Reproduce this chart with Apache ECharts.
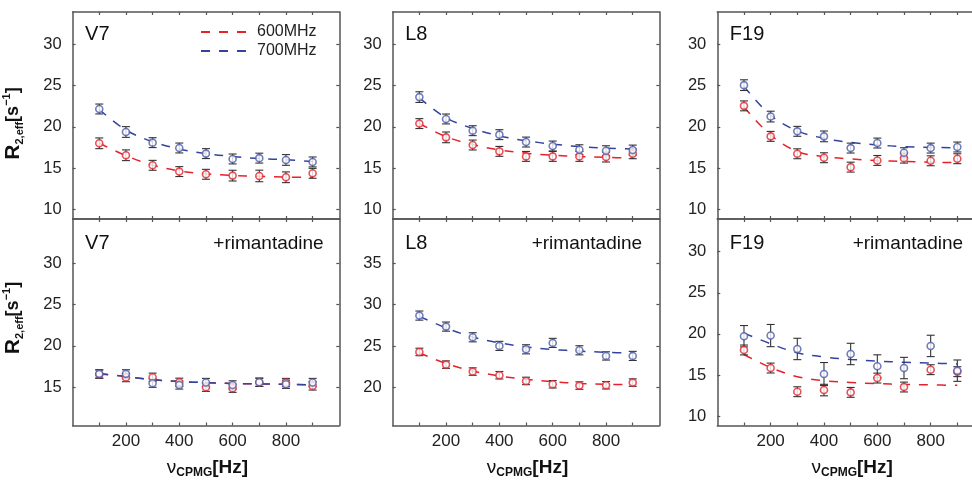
<!DOCTYPE html>
<html><head><meta charset="utf-8">
<script src="https://cdn.jsdelivr.net/npm/echarts@6/dist/echarts.min.js"></script>
<style>html,body{margin:0;padding:0;background:#fff}#c{width:972px;height:482px}</style>
</head><body><div id="c"></div>
<script>
// ---------- DATA ----------
const freq = [100, 200, 300, 400, 500, 600, 700, 800, 900];
const xTickValues = [100, 200, 300, 400, 500, 600, 700, 800, 900];
const xLabelValues = [200, 400, 600, 800];
const residueNames = ['V7', 'L8', 'F19', 'V7', 'L8', 'F19'];
const conditionNames = ['', '', '', '+rimantadine', '+rimantadine', '+rimantadine'];
const seriesNames = ['600MHz', '700MHz'];

// V7 (apo)
const v7_600 = [18.0, 16.55, 15.33, 14.57, 14.24, 14.08, 14.04, 13.88, 14.36];
const v7_600_err = [0.65, 0.65, 0.6, 0.6, 0.6, 0.65, 0.7, 0.65, 0.6];
const v7_600_fit = [18.0, 16.5, 15.35, 14.65, 14.3, 14.1, 14.0, 13.9, 13.85];
const v7_700 = [22.16, 19.37, 18.08, 17.43, 16.75, 16.1, 16.2, 15.98, 15.74];
const v7_700_err = [0.6, 0.65, 0.6, 0.6, 0.6, 0.6, 0.6, 0.65, 0.6];
const v7_700_fit = [22.1, 19.6, 18.2, 17.3, 16.75, 16.4, 16.15, 16.0, 15.8];
// L8 (apo)
const l8_600 = [20.39, 18.72, 17.79, 17.02, 16.41, 16.41, 16.41, 16.33, 16.73];
const l8_600_err = [0.6, 0.65, 0.6, 0.6, 0.6, 0.6, 0.6, 0.6, 0.6];
const l8_600_fit = [20.4, 18.8, 17.85, 17.2, 16.8, 16.55, 16.4, 16.3, 16.2];
const l8_700 = [23.6, 20.95, 19.53, 19.05, 18.15, 17.67, 17.22, 17.1, 17.18];
const l8_700_err = [0.65, 0.6, 0.6, 0.6, 0.6, 0.6, 0.6, 0.6, 0.6];
const l8_700_fit = [23.5, 21.1, 19.8, 18.9, 18.3, 17.9, 17.6, 17.4, 17.3];
// F19 (apo)
const f19_600 = [22.54, 18.84, 16.73, 16.25, 15.11, 15.92, 16.2, 15.88, 16.13];
const f19_600_err = [0.6, 0.6, 0.6, 0.6, 0.6, 0.6, 0.6, 0.6, 0.6];
const f19_600_fit = [22.4, 19.0, 17.0, 16.4, 16.1, 15.9, 15.8, 15.7, 15.65];
const f19_700 = [25.05, 21.24, 19.45, 18.84, 17.42, 18.03, 16.86, 17.42, 17.55];
const f19_700_err = [0.65, 0.65, 0.6, 0.65, 0.6, 0.6, 0.6, 0.6, 0.6];
const f19_700_fit = [24.9, 21.4, 19.5, 18.6, 18.1, 17.8, 17.6, 17.5, 17.45];
// V7 + rimantadine
const v7r_600 = [16.58, 16.17, 16.21, 15.6, 15.0, 14.88, 15.6, 15.57, 15.16];
const v7r_600_err = [0.5, 0.5, 0.5, 0.5, 0.5, 0.5, 0.5, 0.5, 0.5];
const v7r_600_fit = [16.6, 16.3, 15.9, 15.7, 15.55, 15.45, 15.4, 15.35, 15.3];
const v7r_700 = [16.62, 16.62, 15.49, 15.28, 15.57, 15.28, 15.6, 15.36, 15.57];
const v7r_700_err = [0.5, 0.5, 0.5, 0.5, 0.5, 0.5, 0.5, 0.5, 0.5];
const v7r_700_fit = [16.65, 16.3, 15.9, 15.7, 15.55, 15.45, 15.4, 15.35, 15.3];
// L8 + rimantadine
const l8r_600 = [24.3, 22.77, 21.93, 21.49, 20.8, 20.4, 20.24, 20.28, 20.6];
const l8r_600_err = [0.45, 0.45, 0.45, 0.45, 0.45, 0.45, 0.45, 0.45, 0.45];
const l8r_600_fit = [24.2, 22.9, 22.0, 21.4, 21.0, 20.7, 20.5, 20.4, 20.35];
const l8r_700 = [28.69, 27.36, 26.07, 25.03, 24.62, 25.39, 24.5, 23.82, 23.82];
const l8r_700_err = [0.55, 0.55, 0.55, 0.55, 0.55, 0.55, 0.55, 0.5, 0.55];
const l8r_700_fit = [28.6, 27.2, 26.1, 25.4, 24.9, 24.6, 24.4, 24.25, 24.15];
// F19 + rimantadine
const f19r_600 = [18.05, 15.85, 12.97, 13.17, 12.89, 14.63, 13.54, 15.65, 15.41];
const f19r_600_err = [0.6, 0.6, 0.6, 0.7, 0.6, 0.6, 0.6, 0.6, 0.6];
const f19r_600_fit = [17.5, 15.9, 14.8, 14.3, 14.1, 13.95, 13.85, 13.8, 13.75];
const f19r_700 = [19.72, 19.8, 18.17, 15.12, 17.56, 16.06, 15.85, 18.54, 15.53];
const f19r_700_err = [1.3, 1.35, 1.3, 1.4, 1.3, 1.4, 1.3, 1.3, 1.3];
const f19r_700_fit = [20.1, 18.8, 17.7, 17.2, 16.9, 16.7, 16.55, 16.45, 16.35];

// y-axis tick labels per panel
const yTicksTop = [10, 15, 20, 25, 30];
const yTicksV7r = [15, 20, 25, 30];
const yTicksL8r = [20, 25, 30, 35];
const yTicksF19r = [10, 15, 20, 25, 30];

// ---------- LAYOUT / STYLE ----------
const FONT = '"Liberation Sans", Arial, Helvetica, sans-serif';
const RED = '#e6212b', BLUE = '#34449e';
const RED_M = '#e3262f', BLUE_M = '#4d5cab';
const AXC = '#555';
const colLeft = [72.6, 392.7, 717.3];
const colW = 266.7;
const rowTop = [12, 219];
const rowH = [207, 206.5];

const panels = [
  {a: v7_600, ae: v7_600_err, af: v7_600_fit, b: v7_700, be: v7_700_err, bf: v7_700_fit, yr: [8.82, 33.92], yt: yTicksTop},
  {a: l8_600, ae: l8_600_err, af: l8_600_fit, b: l8_700, be: l8_700_err, bf: l8_700_fit, yr: [8.82, 33.92], yt: yTicksTop},
  {a: f19_600, ae: f19_600_err, af: f19_600_fit, b: f19_700, be: f19_700_err, bf: f19_700_fit, yr: [8.82, 33.92], yt: yTicksTop},
  {a: v7r_600, ae: v7r_600_err, af: v7r_600_fit, b: v7r_700, be: v7r_700_err, bf: v7r_700_fit, yr: [10.37, 35.36], yt: yTicksV7r},
  {a: l8r_600, ae: l8r_600_err, af: l8r_600_fit, b: l8r_700, be: l8r_700_err, bf: l8r_700_fit, yr: [15.42, 40.35], yt: yTicksL8r},
  {a: f19r_600, ae: f19r_600_err, af: f19r_600_fit, b: f19r_700, be: f19r_700_err, bf: f19r_700_fit, yr: [8.86, 33.98], yt: yTicksF19r}
];
const rimX = [213.3, 531.7, 852.7];

const grid = [], xAxis = [], yAxis = [], series = [], graphic = [];
const axLine = {show: true, onZero: false, lineStyle: {color: AXC, width: 1.5}};

function errSeries(i, vals, errs) {
  return {
    type: 'custom', xAxisIndex: 2 * i, yAxisIndex: 2 * i, silent: true, z: 3,
    encode: {x: 0, y: [1, 2]},
    data: freq.map((f, k) => [f, vals[k] - errs[k], vals[k] + errs[k]]),
    renderItem(params, api) {
      const x = api.value(0);
      const lo = api.coord([x, api.value(1)]);
      const hi = api.coord([x, api.value(2)]);
      const w = 4;
      const st = {stroke: '#333', lineWidth: 1.1};
      return {type: 'group', children: [
        {type: 'line', shape: {x1: lo[0], y1: lo[1], x2: hi[0], y2: hi[1]}, style: st},
        {type: 'line', shape: {x1: lo[0] - w, y1: lo[1], x2: lo[0] + w, y2: lo[1]}, style: st},
        {type: 'line', shape: {x1: hi[0] - w, y1: hi[1], x2: hi[0] + w, y2: hi[1]}, style: st}
      ]};
    }
  };
}

panels.forEach((p, i) => {
  const col = i % 3, row = Math.floor(i / 3);
  grid.push({left: colLeft[col], top: rowTop[row], width: colW, height: rowH[row],
    containLabel: false, outerBoundsMode: 'none'});
  const xBase = {gridIndex: i, type: 'value', min: 0, max: 1000, axisLine: axLine,
    splitLine: {show: false},
    axisTick: {show: true, inside: true, length: 3, customValues: xTickValues, lineStyle: {color: AXC, width: 1.2}}};
  xAxis.push(Object.assign({}, xBase, {position: 'bottom',
    axisLabel: {show: row === 1, customValues: xLabelValues, margin: 7, fontSize: 17, color: '#222', fontFamily: FONT}}));
  xAxis.push(Object.assign({}, xBase, {position: 'top', axisLabel: {show: false}}));
  const yBase = {gridIndex: i, type: 'value', min: p.yr[0], max: p.yr[1], axisLine: axLine,
    splitLine: {show: false},
    axisTick: {show: true, inside: true, length: 3, customValues: p.yt, lineStyle: {color: AXC, width: 1.2}}};
  yAxis.push(Object.assign({}, yBase, {position: 'left',
    axisLabel: {show: true, customValues: p.yt, margin: 11, fontSize: 16.5, color: '#222', fontFamily: FONT}}));
  yAxis.push(Object.assign({}, yBase, {position: 'right', axisLabel: {show: false}}));

  [[p.af, RED, seriesNames[0]], [p.bf, BLUE, seriesNames[1]]].forEach(([fit, c, nm]) => {
    series.push({type: 'line', name: nm, xAxisIndex: 2 * i, yAxisIndex: 2 * i, silent: true, z: 2,
      data: freq.map((f, k) => [f, fit[k]]), smooth: 0.35, symbol: 'none', animation: false,
      lineStyle: {color: c, width: 1.5, type: [9, 9]}, itemStyle: {color: c}});
  });
  series.push(errSeries(i, p.a, p.ae));
  series.push(errSeries(i, p.b, p.be));
  [[p.a, RED_M], [p.b, BLUE_M]].forEach(([v, c]) => {
    series.push({type: 'scatter', xAxisIndex: 2 * i, yAxisIndex: 2 * i, silent: true, z: 5,
      data: freq.map((f, k) => [f, v[k]]), symbol: 'circle', symbolSize: 7,
      itemStyle: {color: '#fff', borderColor: c, borderWidth: 1.6}});
  });

  graphic.push({type: 'text', x: colLeft[col] + 12.5, y: rowTop[row] + (row ? 24.5 : 22),
    style: {text: residueNames[i], fontSize: 20, fontFamily: FONT, fill: '#111',
      align: 'left', verticalAlign: 'middle', textAlign: 'left', textVerticalAlign: 'middle'}});
  if (conditionNames[i]) {
    graphic.push({type: 'text', x: rimX[col], y: rowTop[row] + 24.5,
      style: {text: conditionNames[i], fontSize: 19, fontFamily: FONT, fill: '#111',
        align: 'left', verticalAlign: 'middle', textAlign: 'left', textVerticalAlign: 'middle'}});
  }
  if (row === 1) {
    graphic.push({type: 'text', x: colLeft[col] + colW / 2 + 1.5, y: 468,
      style: {text: '{n|ν}{c|CPMG}{h|[Hz]}', align: 'center', verticalAlign: 'middle',
        textAlign: 'center', textVerticalAlign: 'middle',
        rich: {
          n: {fontSize: 19, fontFamily: FONT, fill: '#111', lineHeight: 22, verticalAlign: 'middle'},
          c: {fontSize: 12, fontWeight: 'bold', fontFamily: FONT, fill: '#111', lineHeight: 12, verticalAlign: 'bottom'},
          h: {fontSize: 19, fontWeight: 'bold', fontFamily: FONT, fill: '#111', lineHeight: 22, verticalAlign: 'middle'}
        }}});
  }
});

[123.5, 318].forEach(yc => {
  graphic.push({type: 'text', x: 13, y: yc, rotation: Math.PI / 2,
    style: {text: '{r|R}{s|2,eff}{b|[s}{p|−1}{b|]}', align: 'center', verticalAlign: 'middle',
      textAlign: 'center', textVerticalAlign: 'middle',
      rich: {
        r: {fontSize: 21, fontWeight: 'bold', fontFamily: FONT, fill: '#111', lineHeight: 24, verticalAlign: 'middle'},
        s: {fontSize: 11, fontWeight: 'bold', fontFamily: FONT, fill: '#111', lineHeight: 11, verticalAlign: 'bottom'},
        b: {fontSize: 18, fontWeight: 'bold', fontFamily: FONT, fill: '#111', lineHeight: 24, verticalAlign: 'middle'},
        p: {fontSize: 11, fontWeight: 'bold', fontFamily: FONT, fill: '#111', lineHeight: 12, verticalAlign: 'top'}
      }}});
});

const chart = echarts.init(document.getElementById('c'), null, {renderer: 'canvas'});
chart.setOption({
  animation: false,
  backgroundColor: '#fff',
  grid, xAxis, yAxis, series, graphic,
  legend: {data: seriesNames, orient: 'vertical', left: 200, top: 24, padding: 0, itemWidth: 47, itemHeight: 14,
    itemGap: 3, selectedMode: false, itemStyle: {opacity: 0},
    textStyle: {fontSize: 16, color: '#222', fontFamily: FONT, lineHeight: 14, padding: [0, 0, 0, 4]}}
});
</script>
</body></html>
